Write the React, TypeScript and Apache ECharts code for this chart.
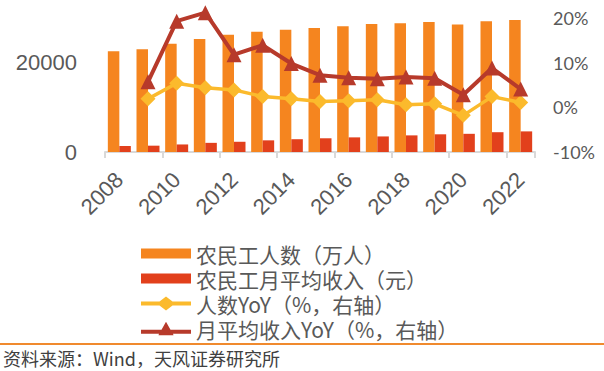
import React, { useEffect, useRef } from "react";
import * as echarts from "echarts";

const years = ["2008", "2009", "2010", "2011", "2012", "2013", "2014", "2015", "2016", "2017", "2018", "2019", "2020", "2021", "2022"];
const workers = [22542, 22978, 24223, 25278, 26261, 26894, 27395, 27747, 28171, 28652, 28836, 29077, 28560, 29251, 29562];
const income = [1340, 1417, 1690, 2049, 2290, 2609, 2864, 3072, 3275, 3485, 3721, 3962, 4072, 4432, 4615];
const workersYoY = [null, 1.9, 5.4, 4.4, 3.9, 2.4, 1.9, 1.3, 1.5, 1.7, 0.6, 0.8, -1.8, 2.4, 1.1];
const incomeYoY = [null, 5.7, 19.3, 21.2, 11.8, 13.9, 9.8, 7.2, 6.6, 6.4, 6.8, 6.5, 2.8, 8.8, 4.1];
const seriesNames = ["农民工人数（万人）", "农民工月平均收入（元）", "人数YoY（%，右轴）", "月平均收入YoY（%，右轴）"];
const sourceText = "资料来源：Wind，天风证券研究所";

const barIcon = "path://M0,0L50,0L50,10L0,10Z";
const diamondIcon = "path://M0,5L18.5,5L25,0L31.5,5L50,5L50,9L31.5,9L25,14L18.5,9L0,9Z";
const triangleIcon = "path://M0,8L20.5,8L25,0L29.5,8L50,8L50,12L32,12L32.5,13.5L17.5,13.5L18,12L0,12Z";

export default function App() {
  const ref = useRef<HTMLDivElement>(null);
  useEffect(() => {
    document.body.style.margin = "0";
    const chart = echarts.init(ref.current!, null, { renderer: "svg" });
    chart.setOption({
      animation: false,
      grid: { left: 105, right: 69, top: 18, bottom: 219 },
      legend: {
        orient: "vertical",
        left: 136,
        top: 238,
        itemWidth: 50,
        itemHeight: 14,
        itemGap: 4,
        symbolKeepAspect: true,
        textStyle: { fontSize: 21, lineHeight: 21, color: "#595959", fontFamily: "Noto Sans CJK SC" },
        data: [
          { name: seriesNames[0], icon: barIcon },
          { name: seriesNames[1], icon: barIcon },
          { name: seriesNames[2], icon: diamondIcon },
          { name: seriesNames[3], icon: triangleIcon },
        ],
      },
      xAxis: {
        type: "category",
        data: years,
        boundaryGap: true,
        axisLine: { lineStyle: { color: "#D9D9D9", width: 2 } },
        axisTick: { show: true, interval: 1, length: 6, lineStyle: { color: "#D9D9D9", width: 2 } },
        axisLabel: {
          interval: 1,
          rotate: 45,
          margin: 24,
          fontSize: 22,
          color: "#595959",
          fontFamily: "Liberation Sans",
        },
      },
      yAxis: [
        {
          type: "value",
          min: 0,
          max: 30000,
          interval: 20000,
          splitLine: { show: false },
          axisLine: { show: false },
          axisTick: { show: false },
          axisLabel: {
            showMaxLabel: false,
            formatter: (v: number) => String(v),
            margin: 28,
            fontSize: 22,
            color: "#595959",
            fontFamily: "Liberation Sans",
          },
        },
        {
          type: "value",
          min: -10,
          max: 20,
          interval: 10,
          splitLine: { show: false },
          axisLine: { show: false },
          axisTick: { show: false },
          axisLabel: {
            formatter: "{value}%",
            margin: 18,
            fontSize: 18,
            color: "#595959",
            fontFamily: "Lato",
          },
        },
      ],
      series: [
        {
          name: seriesNames[0],
          type: "bar",
          data: workers,
          barWidth: 11.5,
          barGap: "0%",
          itemStyle: { color: "#F5851F" },
        },
        {
          name: seriesNames[1],
          type: "bar",
          data: income,
          barWidth: 11.5,
          barGap: "0%",
          itemStyle: { color: "#E2401C" },
        },
        {
          name: seriesNames[2],
          type: "line",
          yAxisIndex: 1,
          data: workersYoY,
          symbol: "diamond",
          symbolSize: 15,
          clip: false,
          lineStyle: { width: 3.5, color: "#FBBA2C" },
          itemStyle: { color: "#FBBA2C" },
        },
        {
          name: seriesNames[3],
          type: "line",
          yAxisIndex: 1,
          data: incomeYoY,
          symbol: "triangle",
          symbolSize: 15,
          clip: false,
          lineStyle: { width: 4, color: "#B73A2B" },
          itemStyle: { color: "#B73A2B" },
        },
      ],
      graphic: [
        {
          type: "line",
          shape: { x1: 0, y1: 344, x2: 604, y2: 344 },
          style: { stroke: "#F08A2E", lineWidth: 2 },
        },
        {
          type: "text",
          x: 3,
          y: 358,
          style: {
            text: sourceText,
            fontSize: 18,
            fill: "#404040",
            fontFamily: "Noto Sans CJK SC",
            verticalAlign: "middle",
          },
        },
      ],
    });
    return () => chart.dispose();
  }, []);
  return <div ref={ref} style={{ width: 604, height: 371 }} />;
}
